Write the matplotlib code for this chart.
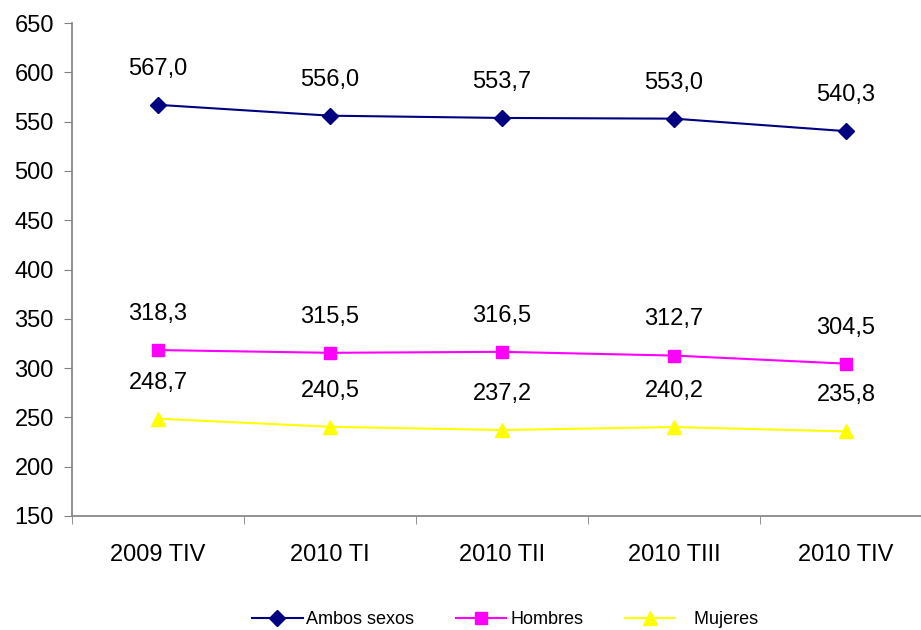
import matplotlib
matplotlib.use("Agg")
import matplotlib.pyplot as plt
import numpy as np

categories = ["2009 TIV", "2010 TI", "2010 TII", "2010 TIII", "2010 TIV"]
ambos = [567.0, 556.0, 553.7, 553.0, 540.3]
hombres = [318.3, 315.5, 316.5, 312.7, 304.5]
mujeres = [248.7, 240.5, 237.2, 240.2, 235.8]
yticks = [150, 200, 250, 300, 350, 400, 450, 500, 550, 600, 650]

plt.rcParams['font.family'] = ['Liberation Sans', 'DejaVu Sans']

fig = plt.figure(figsize=(9.21, 6.30), dpi=100)
ax = fig.add_axes([72/921, 1-516/630, (932-72)/921, (516-23)/630])

x = np.arange(len(categories))
series = [
    (ambos, "Ambos sexos", "#000080", "D", 8),
    (hombres, "Hombres", "#FF00FF", "s", 8),
    (mujeres, "   Mujeres", "#FFFF00", "^", 10),
]
for vals, lab, col, mk, ms in series:
    ax.plot(x, vals, color=col, marker=mk, markersize=ms, lw=1.5, label=lab,
            markerfacecolor=col, markeredgecolor=col, clip_on=False)
    for xi, v in zip(x, vals):
        ax.annotate(f"{v:.1f}".replace(".", ","), (xi, v), xytext=(0, 26),
                    textcoords="offset points", ha="center", va="center",
                    fontsize=17, color="black")

ax.set_xlim(-0.5, len(categories) - 0.5)
ax.set_ylim(150, 650)
ax.set_yticks(yticks)
ax.set_yticklabels([str(t) for t in yticks], fontsize=17)
ax.set_xticks(x)
ax.set_xticklabels(categories, fontsize=17)
ax.set_xticks(np.arange(-0.5, len(categories), 1.0), minor=True)
ax.tick_params(axis='x', which='major', length=0, pad=20)
ax.tick_params(axis='x', which='minor', length=6, color='#808080', direction='out')
ax.tick_params(axis='y', length=6, color='#808080', direction='out', pad=7)
for s in ['top', 'right']:
    ax.spines[s].set_visible(False)
for s in ['left', 'bottom']:
    ax.spines[s].set_color('#808080')
    ax.spines[s].set_linewidth(1.2)

fig.legend(loc='center', bbox_to_anchor=(505/921, 1-620/630), ncol=3, frameon=False,
           fontsize=13, handlelength=2.8, handletextpad=0.2, columnspacing=2.3)

fig.savefig("out.png", dpi=100)
